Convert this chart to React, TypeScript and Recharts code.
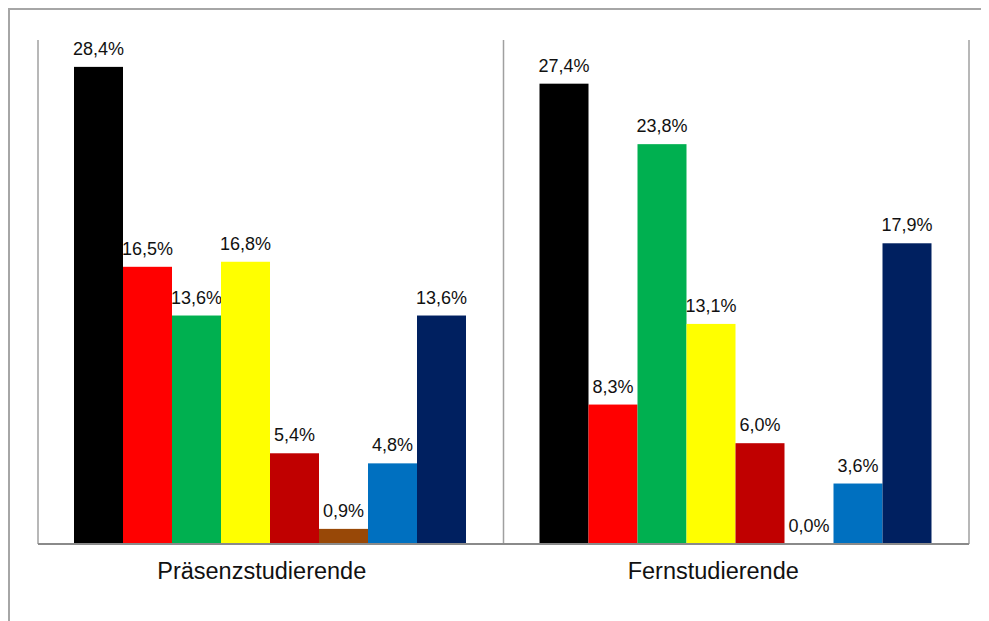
import { BarChart, Bar, XAxis, YAxis, CartesianGrid } from "recharts";

const categories = ["Präsenzstudierende", "Fernstudierende"];

// one array per series, values in percent: [Präsenz, Fern]
const seriesA = [28.4, 27.4];
const seriesB = [16.5, 8.3];
const seriesC = [13.6, 23.8];
const seriesD = [16.8, 13.1];
const seriesE = [5.4, 6.0];
const seriesF = [0.9, 0.0];
const seriesG = [4.8, 3.6];
const seriesH = [13.6, 17.9];

const seriesKeys = ["a", "b", "c", "d", "e", "f", "g", "h"];
const seriesValues = [seriesA, seriesB, seriesC, seriesD, seriesE, seriesF, seriesG, seriesH];
const COLORS = ["#000000", "#FF0000", "#00B050", "#FFFF00", "#C00000", "#984807", "#0070C0", "#002060"];

const data = categories.map((name, i) => {
  const row: Record<string, string | number> = { name };
  seriesKeys.forEach((k, j) => {
    row[k] = seriesValues[j][i];
  });
  return row;
});

const FONT = "'Liberation Sans', Arial, sans-serif";

const fmt = (v: number) => v.toFixed(1).replace(".", ",") + "%";

// the label sits in the shape so that zero bars still get their "0,0%"
const makeShape = (key: string, color: string) => (props: any) => {
  const { x, y, width, height, payload } = props;
  const v = Number(payload[key]);
  return (
    <g>
      {height > 0 && <rect x={x} y={y} width={width} height={height} fill={color} />}
      <text x={x + width / 2} y={y - 12} textAnchor="middle" fontSize={18} fontFamily={FONT} fill="#111">
        {fmt(v)}
      </text>
    </g>
  );
};

// tick labels sit a bit left of the group centre in the original
const tickShift = [-9, -23];

const CatTick = (props: any) => {
  const { x, y, payload, index } = props;
  return (
    <text x={x + (tickShift[index] ?? 0)} y={y + 35} textAnchor="middle" fontSize={23.5} fontFamily={FONT} fill="#111">
      {payload.value}
    </text>
  );
};

export default function App() {
  return (
    <div
      style={{
        width: 979,
        height: 611,
        borderTop: "2px solid #a6a6a6",
        borderLeft: "2px solid #a6a6a6",
        background: "#fff",
      }}
    >
      <style>{`body{overflow:hidden;background:#fff}`}</style>
      <BarChart
        width={979}
        height={611}
        data={data}
        margin={{ top: 30, right: 20, left: 28, bottom: 0 }}
        barGap={0}
        barCategoryGap={36}
      >
        <CartesianGrid
          horizontal={false}
          stroke="#a0a0a0"
          strokeWidth={1.5}
          verticalCoordinatesGenerator={({ offset }: any) => [
            offset.left,
            offset.left + offset.width / 2,
            offset.left + offset.width,
          ]}
        />
        <XAxis
          dataKey="name"
          height={77}
          tickLine={false}
          tickSize={0}
          tickMargin={0}
          axisLine={{ stroke: "#8a8a8a", strokeWidth: 2 }}
          tick={<CatTick />}
          interval={0}
        />
        <YAxis hide domain={[0, 30]} />
        {seriesKeys.map((k, i) => (
          <Bar key={k} dataKey={k} fill={COLORS[i]} isAnimationActive={false} shape={makeShape(k, COLORS[i])} />
        ))}
      </BarChart>
    </div>
  );
}
